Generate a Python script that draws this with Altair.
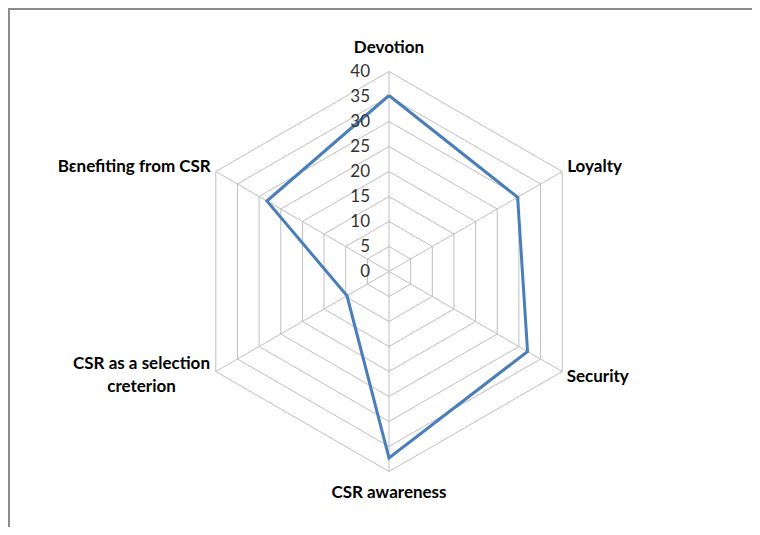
import altair as alt
import pandas as pd

# ---- data ----
categories = ["Devotion", "Loyalty", "Security", "CSR awareness",
              "CSR as a selection\ncreterion", "Bɛnefiting from CSR"]
values = [35.2, 29.7, 32.0, 37.3, 9.7, 28.2]
ticks = [0, 5, 10, 15, 20, 25, 30, 35, 40]
rmax = 40

n = len(categories)

# line table (closed polygon)
line_df = pd.DataFrame({
    "idx": list(range(n)) + [0],
    "order": list(range(n + 1)),
    "cat": categories + [categories[0]],
    "value": values + [values[0]],
})

# grid rings
ring_rows = []
for t in ticks[1:]:
    for k in range(n + 1):
        ring_rows.append({"ring": t, "idx": k % n, "order": k})
ring_df = pd.DataFrame(ring_rows)

spoke_df = pd.DataFrame({"idx": list(range(n)), "r": [rmax] * n})
tick_df = pd.DataFrame({"tick": ticks, "label": [str(t) for t in ticks]})
label_df = pd.DataFrame({"idx": list(range(n)), "cat": categories, "r": [rmax] * n})

W, H = 744, 519
xs = alt.Scale(domain=[-76.2, 72.6], nice=False, zero=False)
ys = alt.Scale(domain=[-51.1, 52.7], nice=False, zero=False)
X = lambda f: alt.X(f, type="quantitative", scale=xs, axis=None)
Y = lambda f: alt.Y(f, type="quantitative", scale=ys, axis=None)

theta = "(90 - 60*datum.idx) * PI / 180"

grid_color = "#BFBFBF"

rings = alt.Chart(ring_df).transform_calculate(
    px=f"datum.ring * cos({theta})", py=f"datum.ring * sin({theta})"
).mark_line(color=grid_color, strokeWidth=1).encode(
    x=X("px"), y=Y("py"), detail="ring:N", order="order:Q"
)

spokes = alt.Chart(spoke_df).transform_calculate(
    px=f"datum.r * cos({theta})", py=f"datum.r * sin({theta})", zero="0"
).mark_rule(color=grid_color, strokeWidth=1).encode(
    x=X("zero"), y=Y("zero"), x2="px:Q", y2="py:Q"
)

series = alt.Chart(line_df).transform_calculate(
    px=f"datum.value * cos({theta})", py=f"datum.value * sin({theta})"
).mark_line(color="#4A7EBB", strokeWidth=3, strokeJoin="miter").encode(
    x=X("px"), y=Y("py"), order="order:Q"
)

tick_text = alt.Chart(tick_df).transform_calculate(zero="0").mark_text(
    align="right", baseline="middle", dx=-19, font="Lato", fontSize=17, color="#333333"
).encode(x=X("zero"), y=Y("tick"), text="label:N")

styles = [
    dict(align="center", dx=0, dy=-23.5),
    dict(align="left", dx=5, dy=-5),
    dict(align="left", dx=4.5, dy=5),
    dict(align="center", dx=0, dy=21.5),
    dict(align="center", dx=-74.3, dy=-7.5),
    dict(align="right", dx=-5, dy=-5),
]
label_layers = []
for i, st in enumerate(styles):
    label_layers.append(
        alt.Chart(label_df).transform_filter(f"datum.idx == {i}").transform_calculate(
            px=f"datum.r * cos({theta})", py=f"datum.r * sin({theta})"
        ).mark_text(
            baseline="middle", font="Lato", fontSize=17, fontWeight="bold",
            color="#000000", lineBreak="\n", lineHeight=23, **st
        ).encode(x=X("px"), y=Y("py"), text="cat:N")
    )

frame_top = alt.Chart(tick_df).mark_rule(color="#8C8C8C", strokeWidth=1.5).encode(
    x=alt.value(0), x2=alt.value(W), y=alt.value(0.75)
)
frame_left = alt.Chart(tick_df).mark_rule(color="#8C8C8C", strokeWidth=1.5).encode(
    x=alt.value(0.75), y=alt.value(0), y2=alt.value(H)
)

chart = alt.layer(
    rings, spokes, series, tick_text, *label_layers, frame_top, frame_left
).properties(
    width=W, height=H, padding=0, autosize="none"
).configure_view(stroke=None)

chart.save("out.html", embed_options={"renderer": "svg", "actions": False})
